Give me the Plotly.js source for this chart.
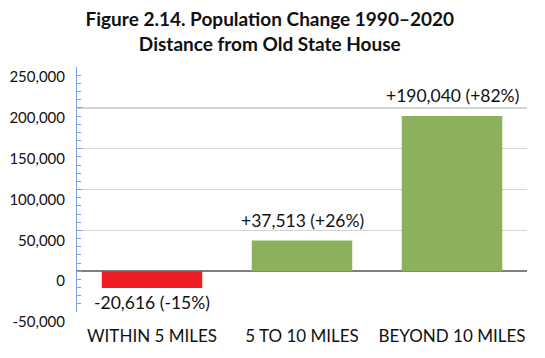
<!DOCTYPE html>
<html><head><meta charset="utf-8">
<script src="https://cdn.plot.ly/plotly-3.0.1.min.js"></script>
<style>html,body{margin:0;padding:0;background:#fff}</style>
</head><body><div id="chart" style="width:545px;height:358px"></div>
<script>
const categories = ["WITHIN 5 MILES", "5 TO 10 MILES", "BEYOND 10 MILES"];
const changes = [-20616, 37513, 190040];
const labels = ["-20,616 (-15%)", "+37,513 (+26%)", "+190,040 (+82%)"];
const barColors = ["#ee1d25", "#8db05d", "#8db05d"];
const tickVals = [-50000, 0, 50000, 100000, 150000, 200000, 250000];
const tickText = ["-50,000", "0", "50,000", "100,000", "150,000", "200,000", "250,000"];

const FONT = "Lato, 'Open Sans', sans-serif";

const annotations = categories.map((c, i) => ({
  x: c, y: changes[i], xref: 'x', yref: 'y',
  text: labels[i], showarrow: false,
  yanchor: changes[i] >= 0 ? 'bottom' : 'top',
  yshift: changes[i] >= 0 ? 8 : -2,
  font: {family: FONT, size: 17.5, color: '#111'}
}));

Plotly.newPlot('chart', [{
  type: 'bar', x: categories, y: changes,
  marker: {color: barColors, line: {width: 0}},
  hoverinfo: 'none'
}], {
  width: 545, height: 358,
  margin: {l: 77, r: 18, t: 67, b: 46},
  paper_bgcolor: '#fff', plot_bgcolor: '#fff',
  bargap: 0.33,
  showlegend: false,
  title: {
    text: '<b>Figure 2.14. Population Change 1990–2020<br>Distance from Old State House</b>',
    x: 0.495, xanchor: 'center', y: 0.927, yanchor: 'top',
    font: {family: FONT, size: 19, color: '#111'}
  },
  xaxis: {
    showline: false, ticks: '', showgrid: false,
    tickfont: {family: FONT, size: 17, color: '#111'},
    ticklabelstandoff: 12
  },
  yaxis: {
    range: [-50000, 250000], tickvals: tickVals, ticktext: tickText,
    showgrid: true, gridcolor: '#d4d4d4', gridwidth: 1.5,
    zeroline: true, zerolinecolor: '#7f7f7f', zerolinewidth: 2,
    showline: true, linecolor: '#7aa3e0', linewidth: 1,
    ticks: 'inside', ticklen: 5, tickcolor: '#7aa3e0',
    minor: {dtick: 10000, ticks: 'inside', ticklen: 4, tickcolor: '#7aa3e0', showgrid: false},
    tickfont: {family: FONT, size: 15, color: '#111'},
    ticklabelshift: 10, ticklabelstandoff: 8
  },
  annotations: annotations
}, {displayModeBar: false, staticPlot: true});
</script></body></html>
